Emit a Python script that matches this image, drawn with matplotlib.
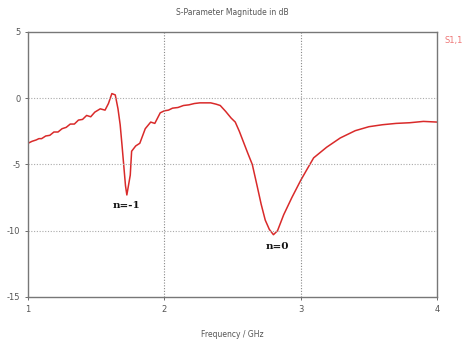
import matplotlib
matplotlib.use("Agg")
import matplotlib.pyplot as plt

# S11 magnitude sweep (GHz, dB)
freq_ghz = [1.00, 1.03, 1.06, 1.08, 1.10, 1.13, 1.16, 1.19, 1.22, 1.25, 1.28, 1.31,
            1.34, 1.37, 1.40, 1.43, 1.46, 1.49, 1.53, 1.565, 1.59, 1.615, 1.64,
            1.66, 1.676, 1.69, 1.70, 1.715, 1.725, 1.74, 1.75, 1.76, 1.79, 1.82,
            1.86, 1.90, 1.93, 1.97, 2.00, 2.03, 2.06, 2.10, 2.14, 2.18, 2.22,
            2.26, 2.30, 2.34, 2.38, 2.41, 2.45, 2.49, 2.52, 2.55, 2.58, 2.61, 2.645,
            2.68, 2.71, 2.74, 2.77, 2.80, 2.83, 2.875, 2.935, 3.00, 3.05, 3.095, 3.19,
            3.29, 3.35, 3.40, 3.50, 3.60, 3.70, 3.80, 3.90, 4.00]
s11_db = [-3.40, -3.25, -3.15, -3.05, -3.05, -2.85, -2.80, -2.55, -2.55, -2.30, -2.20, -1.95,
          -1.95, -1.65, -1.60, -1.30, -1.40, -1.05, -0.80, -0.90, -0.40, 0.35, 0.25,
          -0.80, -2.00, -3.60, -4.80, -6.60, -7.30, -6.40, -5.80, -4.00, -3.60, -3.40,
          -2.30, -1.80, -1.90, -1.10, -0.95, -0.90, -0.75, -0.70, -0.55, -0.50, -0.40,
          -0.35, -0.35, -0.35, -0.45, -0.55, -1.00, -1.50, -1.80, -2.50, -3.30, -4.10, -5.00,
          -6.60, -8.00, -9.20, -9.90, -10.30, -10.00, -8.80, -7.50, -6.20, -5.30, -4.50, -3.70,
          -3.00, -2.70, -2.45, -2.15, -2.00, -1.90, -1.85, -1.75, -1.80]

x_ticks = [1, 2, 3, 4]
y_ticks = [-15, -10, -5, 0, 5]

fig = plt.figure(figsize=(4.62, 3.40), dpi=100)
ax = fig.add_axes([0.0606, 0.1265, 0.8854, 0.7795])

ax.plot(freq_ghz, s11_db, color="#d92a2a", lw=1.1)

ax.set_xlim(1, 4)
ax.set_ylim(-15, 5)
ax.set_xticks(x_ticks)
ax.set_yticks(y_ticks)
ax.set_xticklabels([str(t) for t in x_ticks])
ax.set_yticklabels([str(t) for t in y_ticks])
ax.tick_params(labelsize=6, colors="#555555", length=2, width=0.6)
for sp in ax.spines.values():
    sp.set_color("#777777")
    sp.set_linewidth(1.0)

for y in [-10, -5, 0]:
    ax.axhline(y, color="#aaaaaa", lw=0.8, ls=(0, (1, 1.5)))
for x in [2, 3]:
    ax.axvline(x, color="#888888", lw=0.8, ls=(0, (1, 1.5)))

ax.set_title("S-Parameter Magnitude in dB", fontsize=5.5, color="#555555", pad=12)
ax.set_xlabel("Frequency / GHz", fontsize=5.5, color="#555555", labelpad=12)

ax.text(1.72, -8.1, "n=-1", family="DejaVu Serif", fontsize=7.5, fontweight="bold",
        ha="center", va="center", color="#111111")
ax.text(2.83, -11.2, "n=0", family="DejaVu Serif", fontsize=7.5, fontweight="bold",
        ha="center", va="center", color="#111111")

fig.text(0.963, 0.882, "S1,1", fontsize=6, color="#ee7777", ha="left", va="center")

fig.savefig("out.png", dpi=100)
